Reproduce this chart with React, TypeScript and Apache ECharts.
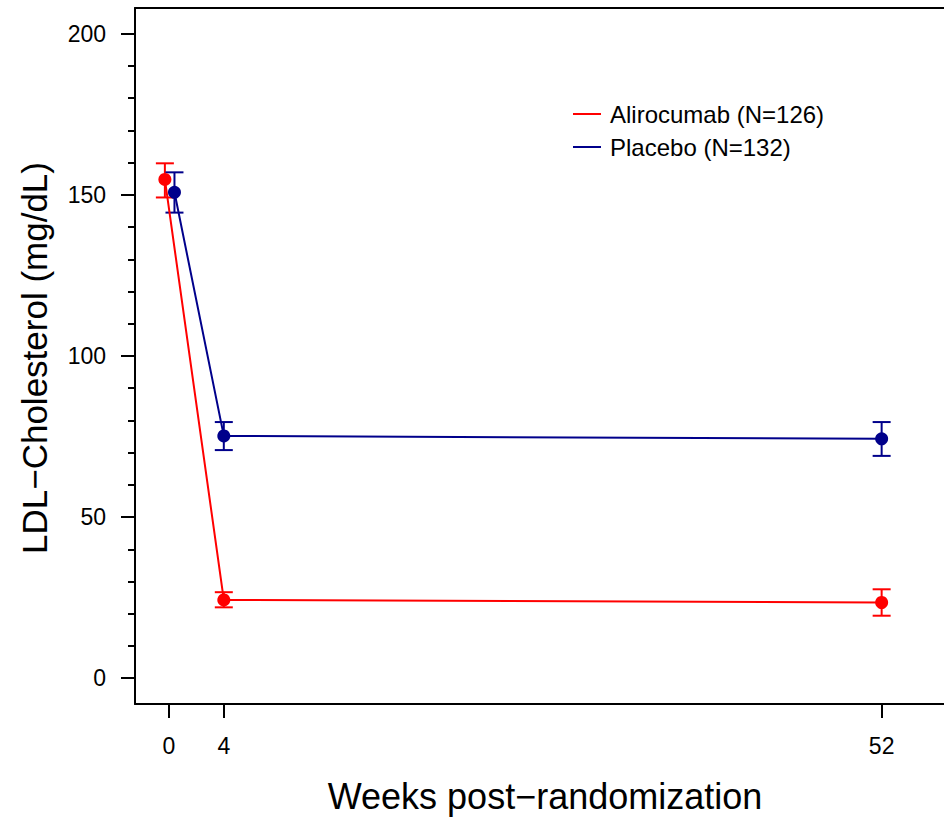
import React, { useEffect, useRef } from "react";
import * as echarts from "echarts";

const weeks = [0, 4, 52];
const aliroJitter = [-0.3, 0, 0];
const placeboJitter = [0.4, 0, 0];
const aliroMean = [154.8, 24.3, 23.5];
const aliroLow = [149.2, 22.0, 19.4];
const aliroHigh = [159.8, 26.7, 27.6];
const placeboMean = [150.8, 75.2, 74.3];
const placeboLow = [144.5, 70.8, 69.0];
const placeboHigh = [157.0, 79.5, 79.5];
const yMajorTicks = [0, 50, 100, 150, 200];
const yMinorTicks = [10, 20, 30, 40, 60, 70, 80, 90, 110, 120, 130, 140, 160, 170, 180, 190];
const xTicks = [0, 4, 52];
const seriesNames = ["Alirocumab (N=126)", "Placebo (N=132)"];

const FONT = '"Liberation Sans", Arial, Helvetica, sans-serif';
const RED = "#FF0000";
const BLUE = "#00008B";
const X_MIN = -2.48;
const X_MAX = 56.55;
const Y_MIN = -8;
const Y_MAX = 208;

function errorBarSeries(name: string, color: string, jitter: number[], low: number[], high: number[]) {
  return {
    type: "custom",
    name,
    xAxisIndex: 0,
    yAxisIndex: 0,
    data: weeks.map((w, i) => [w + jitter[i], low[i], high[i]]),
    encode: { x: 0, y: [1, 2] },
    z: 3,
    silent: true,
    renderItem: (params: any, api: any) => {
      const x = api.value(0);
      const lo = api.coord([x, api.value(1)]);
      const hi = api.coord([x, api.value(2)]);
      const hw = 9;
      const style = { stroke: color, lineWidth: 2 };
      return {
        type: "group",
        children: [
          { type: "line", shape: { x1: lo[0], y1: lo[1], x2: hi[0], y2: hi[1] }, style },
          { type: "line", shape: { x1: lo[0] - hw, y1: lo[1], x2: lo[0] + hw, y2: lo[1] }, style },
          { type: "line", shape: { x1: hi[0] - hw, y1: hi[1], x2: hi[0] + hw, y2: hi[1] }, style },
        ],
      };
    },
  };
}

const boxLine = { show: true, onZero: false, lineStyle: { color: "#000", width: 2 } };

export default function App() {
  const ref = useRef<HTMLDivElement>(null);
  useEffect(() => {
    if (!ref.current) return;
    const chart = echarts.init(ref.current, null, { renderer: "svg" });
    const option: any = {
      animation: false,
      backgroundColor: "#ffffff",
      grid: {
        left: 135,
        top: 8,
        right: 0,
        bottom: 113,
        show: false,
      },
      legend: {
        orient: "vertical",
        left: 568,
        top: 97,
        itemWidth: 28,
        itemHeight: 2,
        itemGap: 9,
        icon: "rect",
        data: seriesNames,
        textStyle: { fontSize: 24, color: "#000", fontFamily: FONT, lineHeight: 24, padding: [0, 0, 0, 4] },
      },
      xAxis: [
        {
          type: "value",
          position: "bottom",
          min: X_MIN,
          max: X_MAX,
          axisLine: boxLine,
          splitLine: { show: false },
          axisTick: { show: true, customValues: xTicks, length: 14, lineStyle: { color: "#000", width: 2 } },
          axisLabel: { customValues: xTicks, fontSize: 23, color: "#000", fontFamily: FONT, margin: 30 },
        },
        {
          type: "value",
          position: "top",
          min: X_MIN,
          max: X_MAX,
          axisLine: boxLine,
          splitLine: { show: false },
          axisTick: { show: false },
          axisLabel: { show: false },
        },
      ],
      yAxis: [
        {
          type: "value",
          min: Y_MIN,
          max: Y_MAX,
          position: "left",
          axisLine: boxLine,
          splitLine: { show: false },
          axisTick: { show: true, customValues: yMajorTicks, length: 14, lineStyle: { color: "#000", width: 2 } },
          axisLabel: { customValues: yMajorTicks, fontSize: 23, color: "#000", fontFamily: FONT, margin: 29 },
        },
        {
          type: "value",
          min: Y_MIN,
          max: Y_MAX,
          position: "left",
          offset: 0,
          axisLine: { show: false, onZero: false },
          splitLine: { show: false },
          axisTick: { show: true, customValues: yMinorTicks, length: 7, lineStyle: { color: "#000", width: 2 } },
          axisLabel: { show: false },
        },
      ],
      graphic: [
        {
          type: "text",
          x: 545,
          y: 796,
          style: {
            text: "Weeks post\u2212randomization",
            fontSize: 36,
            fontFamily: FONT,
            fill: "#000",
            align: "center",
            verticalAlign: "middle",
          },
        },
        {
          type: "text",
          x: 34,
          y: 358,
          rotation: Math.PI / 2,
          style: {
            text: "LDL\u2212Cholesterol (mg/dL)",
            fontSize: 35,
            fontFamily: FONT,
            fill: "#000",
            align: "center",
            verticalAlign: "middle",
          },
        },
      ],
      series: [
        {
          type: "line",
          name: seriesNames[0],
          data: weeks.map((w, i) => [w + aliroJitter[i], aliroMean[i]]),
          symbol: "circle",
          symbolSize: 13,
          itemStyle: { color: RED },
          lineStyle: { color: RED, width: 2 },
          z: 4,
        },
        {
          type: "line",
          name: seriesNames[1],
          data: weeks.map((w, i) => [w + placeboJitter[i], placeboMean[i]]),
          symbol: "circle",
          symbolSize: 13,
          itemStyle: { color: BLUE },
          lineStyle: { color: BLUE, width: 2 },
          z: 4,
        },
        errorBarSeries("aliro-err", RED, aliroJitter, aliroLow, aliroHigh),
        errorBarSeries("placebo-err", BLUE, placeboJitter, placeboLow, placeboHigh),
      ],
    };
    chart.setOption(option);
    return () => chart.dispose();
  }, []);
  return (
    <div
      ref={ref}
      style={{ position: "fixed", left: 0, top: 0, width: 944, height: 817, background: "#fff" }}
    />
  );
}
